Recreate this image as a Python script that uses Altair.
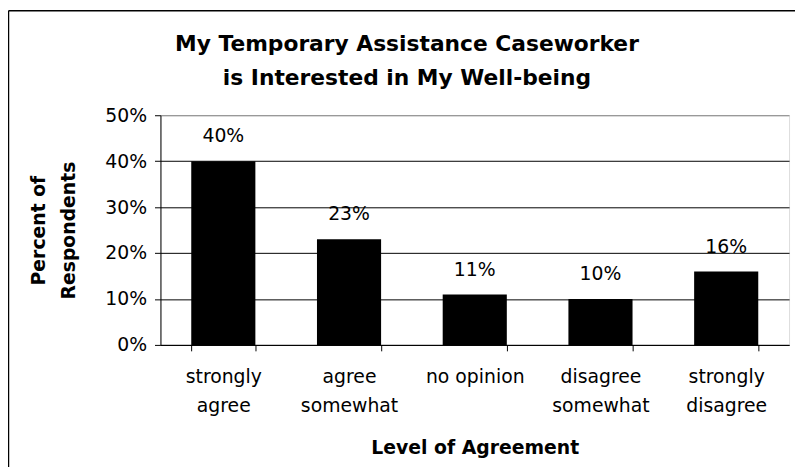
import altair as alt
import pandas as pd

categories = ["strongly\nagree", "agree\nsomewhat", "no opinion", "disagree\nsomewhat", "strongly\ndisagree"]
percents = [0.40, 0.23, 0.11, 0.10, 0.16]
y_ticks = [0.0, 0.1, 0.2, 0.3, 0.4, 0.5]
title_lines = ["My Temporary Assistance Caseworker", "is Interested in My Well-being"]

df = pd.DataFrame({"level": categories, "pct": percents})
FONT = "DejaVu Sans"

base = alt.Chart(df)

x_enc = alt.X(
    "level:N",
    sort=categories,
    scale=alt.Scale(paddingInner=0.49, paddingOuter=0.245),
    axis=alt.Axis(
        title="Level of Agreement",
        titleFont=FONT, titleFontSize=19, titleFontWeight="bold", titleColor="black",
        titleBaseline="middle", titleY=104,
        labelExpr="split(datum.label, '\\n')",
        labelFont=FONT, labelFontSize=19, labelColor="black", labelAngle=0,
        labelLineHeight=29, labelBaseline="top", labelPadding=17,
        tickBand="extent", tickSize=6, tickColor="black",
        domainColor="black", grid=False,
    ),
)

y_enc = alt.Y(
    "pct:Q",
    scale=alt.Scale(domain=[0, 0.5], nice=False),
    axis=alt.Axis(
        values=y_ticks, format=".0%",
        title=["Percent of", "Respondents"],
        titleFont=FONT, titleFontSize=19, titleFontWeight="bold", titleColor="black",
        titleLineHeight=30, titleBaseline="middle", titleX=-123, titleY=116, titleAngle=-90,
        labelFont=FONT, labelFontSize=19, labelColor="black", labelPadding=8,
        tickSize=6, tickColor="black", domainColor="black",
        grid=True, gridColor=alt.condition("datum.value >= 0.5", alt.value("#808080"), alt.value("black")),
        gridWidth=1,
    ),
)

bars = base.mark_bar(color="black").encode(x=x_enc, y=y_enc)

labels = base.mark_text(font=FONT, fontSize=19, color="black", baseline="alphabetic", dy=-19).encode(
    x=alt.X("level:N", sort=categories),
    y=alt.Y("pct:Q"),
    text=alt.Text("pct:Q", format=".0%"),
)

title_df = pd.DataFrame({"line": title_lines, "row": [0, 1]})
title1 = alt.Chart(alt.Data(values=[{"t": title_lines[0]}])).mark_text(
    font=FONT, fontSize=22, fontWeight="bold", color="black", align="center", baseline="alphabetic"
).encode(text="t:N", x=alt.value(249), y=alt.value(-65))
title2 = alt.Chart(alt.Data(values=[{"t": title_lines[1]}])).mark_text(
    font=FONT, fontSize=22, fontWeight="bold", color="black", align="center", baseline="alphabetic"
).encode(text="t:N", x=alt.value(249), y=alt.value(-31))

frame_data = alt.Data(values=[{"k": 1}])
frame_left = alt.Chart(frame_data).mark_rule(color="black", strokeWidth=1.5).encode(
    x=alt.value(-153.5), y=alt.value(-105.5), y2=alt.value(360)
)
frame_top = alt.Chart(frame_data).mark_rule(color="black", strokeWidth=1.5).encode(
    x=alt.value(-153.5), x2=alt.value(645), y=alt.value(-105.5)
)

chart = alt.layer(bars, labels, title1, title2, frame_left, frame_top).properties(
    width=635,
    height=232,
    autosize="none",
    padding={"left": 154, "top": 106, "right": 6, "bottom": 121},
).configure_view(stroke="#808080", strokeWidth=1.5).configure(background="white")

chart.save("out.html", embed_options={"renderer": "svg", "actions": False})
